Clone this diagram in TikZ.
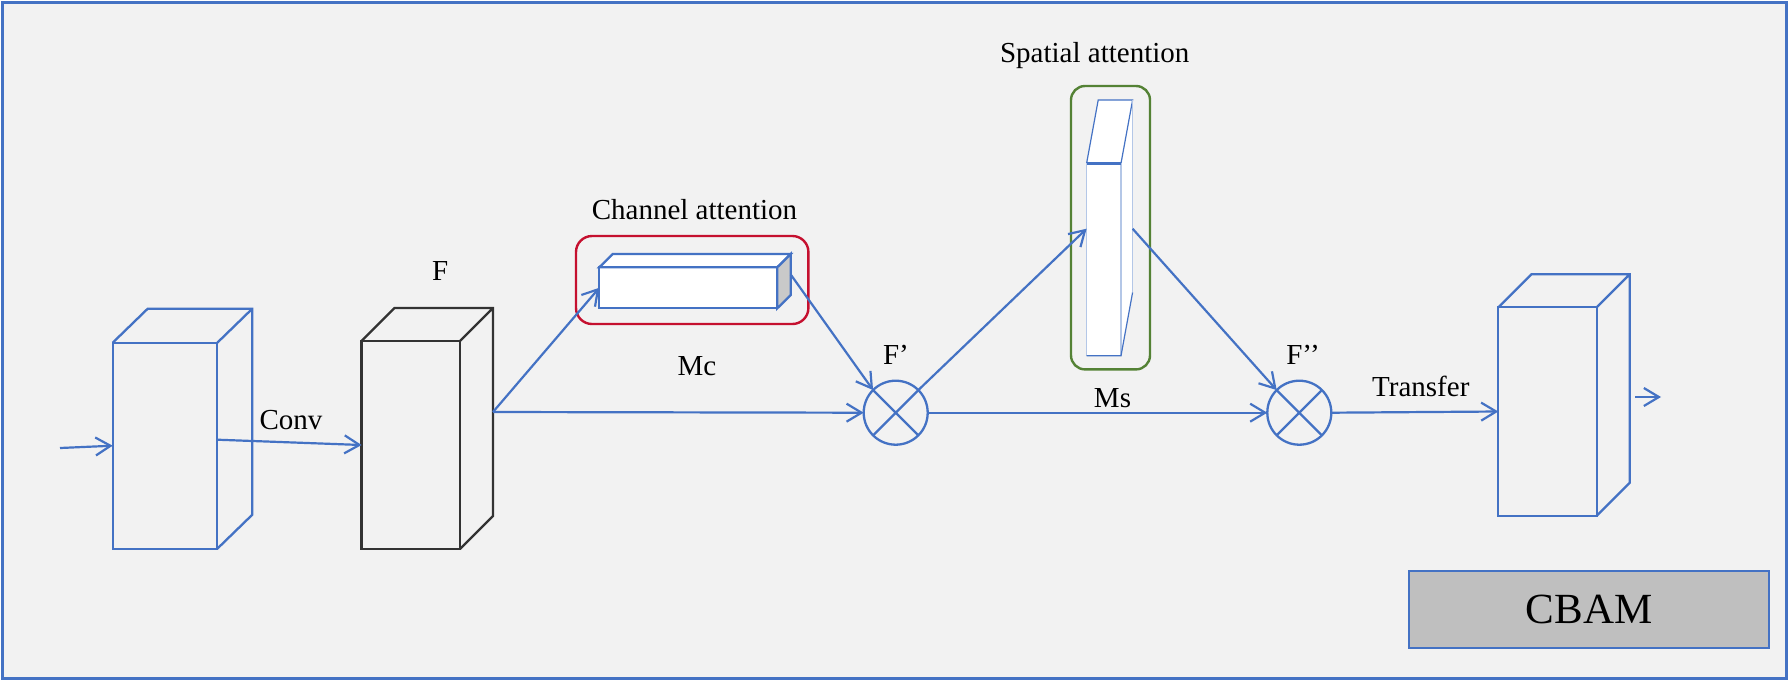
\documentclass[tikz,border=0pt]{standalone}
\usepackage{fontspec}
\setmainfont{Liberation Serif}
\usetikzlibrary{arrows.meta, calc}

\definecolor{cbblue}{HTML}{4472C4}
\definecolor{bggray}{HTML}{F2F2F2}
\definecolor{cbred}{HTML}{C5102F}
\definecolor{cbgreen}{HTML}{548235}
\definecolor{boxgray}{HTML}{BFBFBF}
\definecolor{sidegray}{HTML}{C9C9C9}
\definecolor{lightblue}{HTML}{B4C7E7}
\definecolor{darkline}{HTML}{333333}

\begin{document}
\begin{tikzpicture}[x=0.5pt, y=-0.5pt, >={Straight Barb[length=7.5pt,width=9pt]},
        lbl/.style={anchor=base, inner sep=0, font=\fontsize{14.5}{17}\selectfont},
        face/.style={rectangle, draw=cbblue, line width=1.15pt, inner sep=0, outer sep=0},
        mult/.style={circle, draw=cbblue, line width=1.15pt, minimum size=32pt, inner sep=0, outer sep=0},
        group/.style={rectangle, line width=1.2pt, inner sep=0},
        arrow/.style={->, cbblue, line width=1.1pt}]

        \useasboundingbox (0,0) rectangle (1788,681);
        \draw[cbblue, line width=1.5pt, fill=bggray] (2,2) rectangle (1786,678);

        % feature maps
        \node[face, minimum width=52.3pt, minimum height=103pt] (in) at (165,445.7) {};
        \draw[cbblue, line width=1.15pt] (in.north west) -- ++(35,-34) -- ++(104.6,0) -- ++(0,206) -- (in.south east) (in.north east) -- ++(35,-34);
        \node[face, draw=darkline, minimum width=49.2pt, minimum height=104pt] (feat) at (410.8,445) {};
        \draw[darkline, line width=1.15pt] (feat.north west) -- ++(33,-33) -- ++(98.3,0) -- ++(0,208) -- (feat.south east) (feat.north east) -- ++(33,-33);
        \node[face, minimum width=49.2pt, minimum height=104.2pt] (out) at (1547.5,411.5) {};
        \draw[cbblue, line width=1.15pt] (out.north west) -- ++(33,-33) -- ++(98.4,0) -- ++(0,208.4) -- (out.south east) (out.north east) -- ++(33,-33);

        % channel attention
        \node[group, draw=cbred, rounded corners=8pt, minimum width=116.2pt, minimum height=44pt] (chbox) at (692.2,280) {};
        \node[face, fill=white, minimum width=89pt, minimum height=20.5pt] (ch) at (688.3,287.8) {};
        \filldraw[fill=white, draw=cbblue, line width=1.15pt] (ch.north west) -- ++(13.4,-13.3) -- ++(178,0) -- (ch.north east) -- cycle;
        \filldraw[fill=sidegray, draw=cbblue, line width=1.15pt] (ch.north east) -- ++(13.4,-13.3) -- ++(0,41) -- (ch.south east) -- cycle;

        % spatial attention
        \node[group, draw=cbgreen, rounded corners=7pt, minimum width=39.5pt, minimum height=141.7pt] (spbox) at (1110.5,227.7) {};
        \node[rectangle, fill=white, inner sep=0, outer sep=0, minimum width=17.2pt, minimum height=96.2pt] (sp) at (1103.8,259.5) {};
        \fill[white] (sp.north west) -- ++(11.6,-63.3) -- ++(34.4,0) -- ++(0,192.4) -- (sp.south east) -- cycle;
        \draw[cbblue, line width=0.6pt] (sp.north west) -- ++(11.6,-63.3) -- ++(34.4,0) -- (sp.north east);
        \draw[lightblue, line width=0.6pt] (sp.north west) -- (sp.south west) (sp.north east) -- (sp.south east) ($(sp.north east)+(11.6,-63.3)$) -- ++(0,192.4);
        \draw[cbblue, line width=0.6pt] (sp.south west) -- (sp.south east) -- ++(11.6,-63.3);
        \draw[cbblue, line width=1.5pt] (sp.north west) -- (sp.north east);

        % multiplications
        \node[mult] (m1) at (895.7,412.7) {};
        \node[mult] (m2) at (1299.3,412.7) {};
        \draw[cbblue, line width=1.15pt] (m1.north west) -- (m1.south east) (m1.north east) -- (m1.south west);
        \draw[cbblue, line width=1.15pt] (m2.north west) -- (m2.south east) (m2.north east) -- (m2.south west);

        \node[face, fill=boxgray, minimum width=180pt, minimum height=38.5pt, font=\fontsize{21.5}{26}\selectfont] (cbam) at (1589,609.2) {CBAM};

        % labels
        \node[lbl] (lblconv) at (291,429.3) {Conv};
        \node[lbl] (lblf) at (440.3,280) {F};
        \node[lbl] (lblch) at (694.5,219) {Channel attention};
        \node[lbl] (lblmc) at (697,375) {Mc};
        \node[lbl] (lblfa) at (896,364.3) {F’};
        \node[lbl] (lblsp) at (1094.7,62.3) {Spatial attention};
        \node[lbl] (lblms) at (1112.5,407.7) {Ms};
        \node[lbl] (lblfb) at (1303,364.3) {F’’};
        \node[lbl] (lbltr) at (1420.8,396) {Transfer};

        % connectors
        \coordinate (inS) at (60,448);
        \coordinate (fOut) at ($(feat.east)+(33,-33)$);
        \coordinate (chOut) at ($(ch.east)+(13.4,-13.3)$);
        \coordinate (spIn) at ($(sp.north west)!0.34!(sp.south west)$);
        \coordinate (spOut) at ($(sp.north east)!0.34!(sp.south east)+(11.6,0)$);
        \coordinate (outS) at (1635,397);
        \coordinate (outE) at (1661,397);

        \draw[arrow] (inS) -- (in.west);
        \draw[arrow] ([yshift=3pt]in.east) -- (feat.west);
        \draw[arrow] (fOut) -- (ch.west);
        \draw[arrow] (fOut) -- (m1.west);
        \draw[arrow] (chOut) -- (m1.north west);
        \draw[arrow] (m1.north east) -- (spIn);
        \draw[arrow] (spOut) -- (m2.north west);
        \draw[arrow] (m1.east) -- (m2.west);
        \draw[arrow] (m2.east) -- (out.west);
        \draw[arrow] (outS) -- (outE);
    \end{tikzpicture}
\end{document}
